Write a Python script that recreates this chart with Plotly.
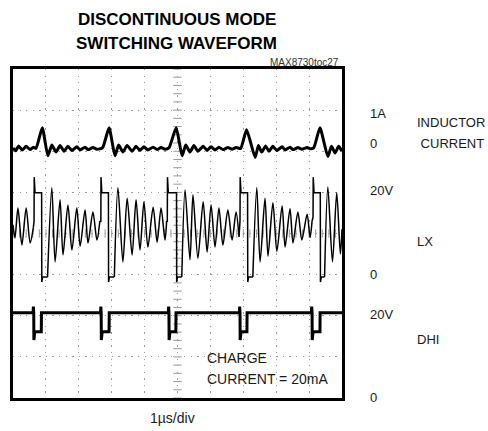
import numpy as np
import plotly.graph_objects as go

# ---- data: time in µs, level in screen divisions (0 = bottom, 8 = top)
# LX: switching pulses (straight edges) and ringing segments between pulses (None separates segments)
lx_pulse_t = [0.62, 0.64, 0.645, 0.67, 0.87, 0.875, 0.90, 1.05, None,
              2.64, 2.67, 2.675, 2.70, 2.90, 2.905, 2.93, 3.08, None,
              4.67, 4.69, 4.695, 4.72, 4.97, 4.975, 5.00, 5.13, None,
              6.87, 6.90, 6.905, 6.93, 7.13, 7.135, 7.16, 7.29, None,
              9.09, 9.12, 9.125, 9.15, 9.34, 9.345, 9.37, 9.47]
lx_pulse_v = [4.15, 4.30, 5.37, 4.99, 4.99, 2.82, 2.94, 2.94, None,
              4.30, 4.30, 5.37, 4.99, 4.99, 2.82, 2.94, 2.94, None,
              4.30, 4.30, 5.37, 4.99, 4.99, 2.82, 2.94, 2.94, None,
              3.92, 4.30, 5.37, 4.99, 4.99, 2.82, 2.94, 2.94, None,
              4.30, 4.40, 5.37, 4.99, 4.99, 2.82, 2.94, 2.94]
lx_ring_t = [0.00, 0.06, 0.15, 0.27, 0.40, 0.52, 0.62, None,
             1.05, 1.18, 1.28, 1.43, 1.52, 1.67, 1.79, 1.94, 2.04, 2.19, 2.28, 2.43, 2.55, 2.64, None,
             3.08, 3.19, 3.34, 3.47, 3.62, 3.74, 3.86, 3.98, 4.10, 4.26, 4.38, 4.50, 4.62, 4.67, None,
             5.13, 5.23, 5.38, 5.47, 5.62, 5.78, 5.90, 6.02, 6.14, 6.26, 6.38, 6.53, 6.66, 6.78, 6.87, None,
             7.29, 7.41, 7.51, 7.66, 7.75, 7.90, 8.02, 8.18, 8.27, 8.42, 8.51, 8.66, 8.78, 8.94, 9.03, 9.09, None,
             9.47, 9.57, 9.71, 9.84, 9.95, 10.0]
lx_ring_v = [4.21, 3.89, 4.62, 3.72, 4.62, 3.77, 4.15, None,
             2.94, 5.11, 3.31, 4.82, 3.48, 4.69, 3.60, 4.62, 3.69, 4.57, 3.77, 4.52, 3.84, 4.30, None,
             2.94, 5.11, 3.31, 4.86, 3.48, 4.82, 3.60, 4.77, 3.67, 4.64, 3.79, 4.62, 3.84, 4.30, None,
             2.94, 5.06, 3.36, 4.94, 3.40, 4.77, 3.55, 4.69, 3.67, 4.62, 3.72, 4.57, 3.84, 4.52, 3.92, None,
             2.94, 5.11, 3.31, 4.86, 3.45, 4.75, 3.57, 4.67, 3.67, 4.60, 3.77, 4.52, 3.84, 4.47, 3.90, 4.30, None,
             2.94, 5.13, 3.31, 4.99, 3.50, 4.10]

il_t = [0.00, 0.08, 0.17, 0.28, 0.40, 0.52, 0.62, 0.70,
        0.89, 1.06, 1.18, 1.31, 1.43, 1.55, 1.67, 1.79, 1.94, 2.04, 2.19, 2.28, 2.43, 2.55, 2.72,
        2.92, 3.10, 3.21, 3.34, 3.47, 3.62, 3.74, 3.86, 3.98, 4.10, 4.26, 4.38, 4.50, 4.62, 4.74,
        4.96, 5.14, 5.25, 5.38, 5.50, 5.62, 5.78, 5.90, 6.02, 6.14, 6.26, 6.38, 6.53, 6.66, 6.78, 6.92,
        7.10, 7.36, 7.46, 7.56, 7.68, 7.78, 7.90, 8.02, 8.18, 8.27, 8.42, 8.51, 8.66, 8.78, 8.94, 9.03, 9.14,
        9.33, 9.57, 9.68, 9.79, 9.90, 10.0]
il_v = [6.08, 6.01, 6.13, 6.03, 6.12, 6.04, 6.10, 6.07,
        6.57, 5.89, 6.15, 5.98, 6.14, 6.00, 6.12, 6.02, 6.11, 6.03, 6.10, 6.04, 6.09, 6.05, 6.08,
        6.57, 5.89, 6.15, 5.98, 6.14, 6.00, 6.12, 6.02, 6.11, 6.03, 6.10, 6.04, 6.09, 6.05, 6.08,
        6.57, 5.89, 6.15, 5.98, 6.14, 6.00, 6.12, 6.02, 6.11, 6.03, 6.10, 6.04, 6.09, 6.05, 6.09, 6.07,
        6.52, 5.85, 6.14, 5.98, 6.13, 6.00, 6.12, 6.02, 6.11, 6.03, 6.10, 6.04, 6.09, 6.05, 6.09, 6.06, 6.08,
        6.57, 5.87, 6.12, 5.96, 6.12, 6.00]

dhi_t = [0.00, 0.61, 0.62, 0.63, 0.635, 0.66, 0.86, 0.865,
         2.66, 2.67, 2.68, 2.685, 2.71, 2.92, 2.925,
         4.72, 4.73, 4.74, 4.745, 4.77, 4.95, 4.955,
         6.88, 6.89, 6.90, 6.905, 6.93, 7.11, 7.115,
         9.07, 9.08, 9.09, 9.095, 9.12, 9.33, 9.335,
         10.0]
dhi_v = [2.07, 2.07, 2.22, 2.07, 1.41, 1.61, 1.61, 2.07,
         2.07, 2.22, 2.07, 1.41, 1.61, 1.61, 2.07,
         2.07, 2.22, 2.07, 1.41, 1.61, 1.61, 2.07,
         2.07, 2.22, 2.07, 1.41, 1.61, 1.61, 2.07,
         2.07, 2.22, 2.07, 1.41, 1.61, 1.61, 2.07,
         2.07]

right_scale_labels = ["1A", "0", "20V", "0", "20V", "0"]
right_scale_y = [0.866, 0.775, 0.632, 0.374, 0.255, 0.003]
channel_names = ["INDUCTOR", " CURRENT", "LX", "DHI"]
channel_y = [0.836, 0.775, 0.477, 0.179]

FONT = "Liberation Sans, Arial, sans-serif"
GRID = "#9a9a9a"

fig = go.Figure()

# center graticule tick marks
ct = np.round(np.arange(0, 8.001, 0.2), 3)
fig.add_trace(go.Scatter(x=[5] * len(ct), y=ct, mode="markers",
                         marker=dict(symbol="line-ew", size=6, line=dict(color=GRID, width=1)),
                         hoverinfo="skip", showlegend=False))
cx = np.round(np.arange(0, 10.001, 0.2), 3)
fig.add_trace(go.Scatter(x=cx, y=[4] * len(cx), mode="markers",
                         marker=dict(symbol="line-ns", size=6, line=dict(color=GRID, width=1)),
                         hoverinfo="skip", showlegend=False))

fig.add_trace(go.Scatter(x=il_t, y=il_v, mode="lines",
                         line=dict(color="black", width=3, shape="spline", smoothing=0.5),
                         name="INDUCTOR CURRENT", showlegend=False))
fig.add_trace(go.Scatter(x=lx_ring_t, y=lx_ring_v, mode="lines",
                         line=dict(color="black", width=1.5, shape="spline", smoothing=0.8),
                         connectgaps=False, name="LX", showlegend=False))
fig.add_trace(go.Scatter(x=lx_pulse_t, y=lx_pulse_v, mode="lines",
                         line=dict(color="black", width=1.5),
                         connectgaps=False, name="LX", showlegend=False))
fig.add_trace(go.Scatter(x=dhi_t, y=dhi_v, mode="lines", line=dict(color="black", width=3),
                         name="DHI", showlegend=False))

ann = []
ann.append(dict(text="<b>DISCONTINUOUS MODE</b>", x=0.498, y=1.149, font=dict(size=17, color="black")))
ann.append(dict(text="<b>SWITCHING WAVEFORM</b>", x=0.498, y=1.079, font=dict(size=17, color="black")))
ann.append(dict(text="MAX8730toc27", x=0.997, y=1.021, xanchor="right", font=dict(size=10, color="#333")))
for t, yy in zip(right_scale_labels, right_scale_y):
    ann.append(dict(text=t, x=1.079, y=yy, xanchor="left", font=dict(size=13)))
for t, yy in zip(channel_names, channel_y):
    ann.append(dict(text=t, x=1.222, y=yy, xanchor="left", font=dict(size=13)))
ann.append(dict(text="CHARGE", x=0.584, y=0.123, xanchor="left", font=dict(size=14)))
ann.append(dict(text="CURRENT = 20mA", x=0.584, y=0.058, xanchor="left", font=dict(size=14)))
ann.append(dict(text="1µs/div", x=0.486, y=-0.061, font=dict(size=14)))
for a in ann:
    a.setdefault("xanchor", "center")
    a.update(xref="paper", yref="paper", showarrow=False, yanchor="middle")

fig.update_layout(
    width=488, height=431,
    margin=dict(l=13, r=146, t=69, b=33),
    paper_bgcolor="white", plot_bgcolor="white",
    font=dict(family=FONT, color="#1a1a1a"),
    annotations=ann,
    xaxis=dict(range=[0, 10], dtick=1, showticklabels=False, ticks="", zeroline=False,
               showgrid=True, gridcolor=GRID, gridwidth=1.3, griddash="1.3px,5.28px",
               showline=True, mirror=True, linecolor="black", linewidth=3, fixedrange=True),
    yaxis=dict(range=[0, 8], dtick=1, showticklabels=False, ticks="", zeroline=False,
               showgrid=True, gridcolor=GRID, gridwidth=1.3, griddash="1.3px,5.28px",
               showline=True, mirror=True, linecolor="black", linewidth=3, fixedrange=True),
)

fig.write_html("out.html", config={"displayModeBar": False},
               post_script="document.body.style.margin='0px';document.body.style.overflow='hidden';")
